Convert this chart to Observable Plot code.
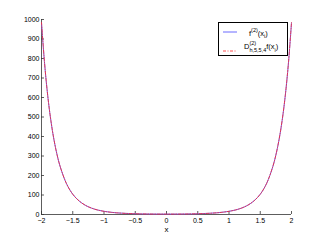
<!DOCTYPE html>
<html><head><meta charset="utf-8">
<script src="https://cdn.jsdelivr.net/npm/d3@7"></script>
<script src="https://cdn.jsdelivr.net/npm/@observablehq/plot@0.6"></script>
<style>
body{margin:0;background:#fff;}
#wrap{position:relative;width:321px;height:242px;font-family:"Liberation Sans",Arial,sans-serif;}
#legend{position:absolute;left:218px;top:22px;width:68px;height:32px;border:1px solid #000;background:#fff;font-size:7.5px;color:#000;}
.row{position:absolute;left:0;width:68px;}
.row svg{position:absolute;left:4px;}
.lab{position:absolute;left:30px;white-space:nowrap;line-height:1;}
sup,sub{font-size:5.5px;}
</style>
</head><body>
<div id="wrap"></div>
<script>
const xs = [-2,-1.95,-1.9,-1.85,-1.8,-1.75,-1.7,-1.6,-1.5,-1.4,-1.3,-1.2,-1.1,-1,-0.9,-0.8,-0.7,-0.6,-0.5,-0.4,-0.3,-0.2,-0.1,0,0.1,0.2,0.3,0.4,0.5,0.6,0.7,0.8,0.9,1,1.1,1.2,1.3,1.4,1.5,1.6,1.7,1.75,1.8,1.85,1.9,1.95,2];
const exact = [983,772,608,481,382,305,244,158,104,70,47.5,32.8,22.9,16.3,11.8,8.6,6.5,4.9,3.9,3.1,2.6,2.2,2.1,2,2.1,2.2,2.6,3.1,3.9,4.9,6.5,8.6,11.8,16.3,22.9,32.8,47.5,70,104,158,244,305,382,481,608,772,983];
const approx = [985,773,609,482,383,305,245,158,104,70,47.6,32.8,22.9,16.3,11.8,8.6,6.5,4.9,3.9,3.1,2.6,2.2,2.1,2,2.1,2.2,2.6,3.1,3.9,4.9,6.5,8.6,11.8,16.3,22.9,32.8,47.6,70,104,158,245,305,383,482,609,773,985];
const xTicks = [-2,-1.5,-1,-0.5,0,0.5,1,1.5,2];
const yTicks = [0,100,200,300,400,500,600,700,800,900,1000];
const xLabel = "x";

const W = 321, H = 242, mL = 41, mR = 30, mT = 19, mB = 28;
const fw = W - mL - mR, fh = H - mT - mB;
const d1 = xs.map((x,i)=>({x, y: exact[i]}));
const d2 = xs.map((x,i)=>({x, y: approx[i]}));

const chart = Plot.plot({
  width: W, height: H, marginLeft: mL, marginRight: mR, marginTop: mT, marginBottom: mB,
  style: {fontFamily: "Liberation Sans, Arial, sans-serif", fontSize: "7px", color: "#000", background: "#fff"},
  x: {domain: [-2, 2], label: null},
  y: {domain: [0, 1000], label: null},
  marks: [
    Plot.axisX(xTicks, {label: null, tickSize: 0, tickPadding: 4, fontSize: 7, tickFormat: d => String(d).replace("-", "\u2212"), fill: "#000"}),
    Plot.axisY(yTicks, {label: null, tickSize: 0, tickPadding: 2, fontSize: 7, tickFormat: d => String(d), fill: "#000"}),
    Plot.tickX(xTicks, {x: d => d, insetTop: fh - 3, stroke: "#333", strokeWidth: 0.8}),
    Plot.tickY(yTicks, {y: d => d, insetRight: fw - 3, stroke: "#333", strokeWidth: 0.8}),
    Plot.ruleX([-2], {stroke: "#333", strokeWidth: 0.8}),
    Plot.ruleY([0], {stroke: "#333", strokeWidth: 0.8}),
    Plot.text([xLabel], {frameAnchor: "bottom", dy: 17, fontSize: 8, fill: "#000"}),
    Plot.line(d1, {x: "x", y: "y", stroke: "#6a6aff", strokeWidth: 1, curve: "catmull-rom"}),
    Plot.line(d2, {x: "x", y: "y", stroke: "#ff2020", strokeWidth: 0.8, strokeDasharray: "3,1.5,1,1.5", curve: "catmull-rom"})
  ]
});
const wrap = document.getElementById("wrap");
wrap.appendChild(chart);
const leg = document.createElement("div");
leg.id = "legend";
leg.innerHTML = `
<div class="row" style="top:5px"><svg width="20" height="8"><line x1="0" y1="4" x2="14" y2="4" stroke="#6a6aff" stroke-width="1"/></svg>
<span class="lab">f<sup>(2)</sup>(x<sub>i</sub>)</span></div>
<div class="row" style="top:19px"><svg width="20" height="12"><line x1="0" y1="9" x2="14" y2="9" stroke="#ff2020" stroke-width="0.8" stroke-dasharray="3,1.5,1,1.5"/></svg>
<span class="lab" style="left:25px">D<span style="display:inline-block;vertical-align:middle;font-size:5.5px;line-height:1;"><span style="display:block;position:relative;top:-1px">(2)</span><span style="display:block">h,5,5,4</span></span>f(x<sub>i</sub>)</span></div>`;
wrap.appendChild(leg);
</script>
</body></html>
